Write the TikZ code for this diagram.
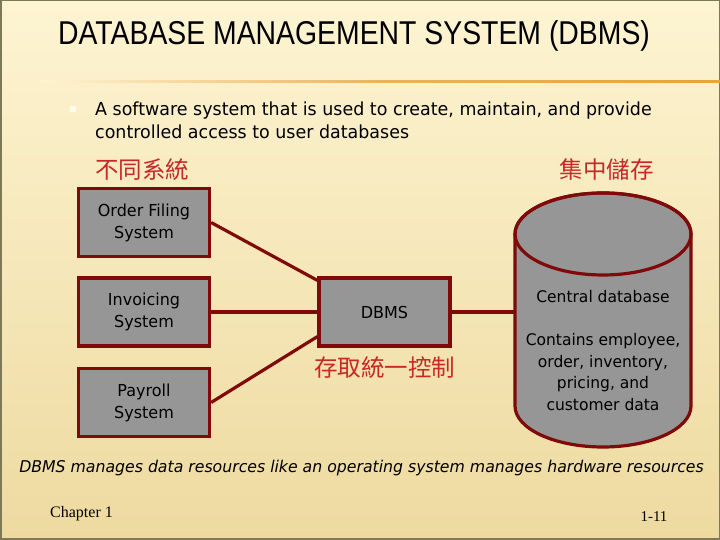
\documentclass[tikz,border=0pt]{standalone}
\usepackage{fontspec}
\setmainfont{DejaVu Sans}[FakeStretch=0.97]
\newfontfamily\titlefont{Liberation Sans}[FakeStretch=0.86]
\newfontfamily\cjkfont{Noto Sans CJK TC}
\newfontfamily\serifft{Liberation Serif}
\usetikzlibrary{calc}
\definecolor{bgtop}{RGB}{253,244,210}
\definecolor{bgbot}{RGB}{238,218,160}
\definecolor{boxred}{RGB}{128,10,10}
\definecolor{boxgray}{RGB}{150,150,150}
\definecolor{cjkred}{RGB}{200,40,40}
\definecolor{rule}{RGB}{232,162,62}
\definecolor{frame}{RGB}{125,120,85}
\tikzset{
  sysbox/.style={draw=boxred, fill=boxgray, line width=3.2pt, minimum width=131pt, minimum height=68pt, align=center, font=\fontsize{16.5}{22}\selectfont, inner sep=0pt},
  link/.style={draw=boxred, line width=3.2pt},
  cjklabel/.style={text=cjkred, font=\cjkfont\fontsize{23.5}{25}\selectfont, inner sep=0pt},
  dbtext/.style={font=\fontsize{16}{21.5}\selectfont, align=center, inner sep=0pt}
}
\begin{document}
\begin{tikzpicture}[x=1pt,y=1pt]
\useasboundingbox (0,0) rectangle (720,540);
% background
\shade[top color=bgtop, bottom color=bgbot] (0,0) rectangle (720,540);
\draw[frame, line width=1.5pt] (0.75,0.75) rectangle (719.25,539.25);
\shade[left color=bgtop, right color=rule, middle color=rule!80!bgtop] (40,457) rectangle (720,459.5);
% title
\node[font=\titlefont\fontsize{33}{36}\selectfont, inner sep=0pt] (title) at (354,504) {DATABASE MANAGEMENT SYSTEM (DBMS)};
% bullet
\node[fill=white!60!bgtop, minimum size=6pt, inner sep=0pt] (bullet) at (73,431) {};
\node[anchor=west, align=left, inner sep=0pt, font=\fontsize{18}{23}\selectfont] (bodytext) at (95,419.5) {A software system that is used to create, maintain, and provide\\controlled access to user databases};
% chinese labels
\node[cjklabel, anchor=west] (diff) at (95,370) {不同系統};
\node[cjklabel, anchor=east] (central) at (654,370) {集中儲存};
% system boxes
\node[sysbox] (order) at (144,317.5) {Order Filing\\System};
\node[sysbox] (invoice) at (144,228) {Invoicing\\System};
\node[sysbox] (payroll) at (144,137.5) {Payroll\\System};
\node[sysbox] (dbms) at (384.5,228) {DBMS};
\node[cjklabel] (ctrl) at (384.5,172) {存取統一控制};
% cylinder
\coordinate (dbleft) at (515,228);
\filldraw[draw=boxred, fill=boxgray, line width=3.2pt]
  (515,306) -- (515,134) arc[start angle=180, end angle=360, x radius=88, y radius=41] -- (691,306) arc[start angle=0, end angle=180, x radius=88, y radius=41] -- cycle;
\draw[draw=boxred, line width=3.2pt] (603,306) ellipse[x radius=88, y radius=41];
\node[dbtext] (dbname) at (603,243) {Central database};
\node[dbtext] (dbdesc) at (603,168) {Contains employee,\\order, inventory,\\pricing, and\\customer data};
% connectors
\draw[link] (order.east) -- ([yshift=-4pt]dbms.north west);
\draw[link] (invoice.east) -- (dbms.west);
\draw[link] (payroll.east) -- ([yshift=11pt]dbms.south west);
\draw[link] (dbms.east) -- (dbleft);
% bottom text
\node[font=\itshape\fontsize{16.2}{20}\selectfont, inner sep=0pt] (note) at (361.5,72) {DBMS manages data resources like an operating system manages hardware resources};
\node[font=\serifft\fontsize{16}{17}\selectfont, anchor=west, inner sep=0pt] (chap) at (50,26) {Chapter 1};
\node[font=\serifft\fontsize{15}{17}\selectfont, inner sep=0pt] (page) at (654,23) {1-11};
\end{tikzpicture}
\end{document}
